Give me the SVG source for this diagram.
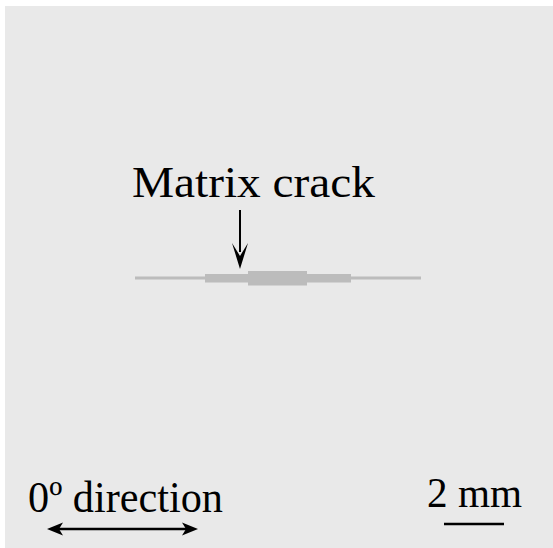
<svg xmlns="http://www.w3.org/2000/svg" width="553" height="548" viewBox="0 0 553 548">
<style>
.lbl{font-family:"Liberation Serif","Times New Roman",serif;fill:#000}
.crack{fill:#bcbcbc}
.ln{stroke:#000;stroke-width:2.5;fill:none}
</style>
<rect x="0" y="0" width="553" height="548" fill="#fff"/>
<rect x="5" y="6" width="548" height="542" fill="#e9e9e9"/>
<g id="crack">
<rect class="crack" x="135" y="276.5" width="286" height="3"/>
<rect class="crack" x="205" y="274" width="146" height="8.5"/>
<rect class="crack" x="248" y="271" width="59" height="14.5"/>
</g>
<g id="label-matrix-crack">
<text class="lbl" x="132" y="197" font-size="45" textLength="243" lengthAdjust="spacingAndGlyphs">Matrix crack</text>
</g>
<g id="label-direction">
<text class="lbl" x="28" y="512" font-size="45" textLength="195" lengthAdjust="spacingAndGlyphs">0º direction</text>
</g>
<g id="label-scale">
<text class="lbl" x="427" y="507" font-size="43" textLength="95" lengthAdjust="spacingAndGlyphs">2 mm</text>
</g>
<g id="connectors">
<line x1="240" y1="210" x2="240" y2="252" stroke="#000" stroke-width="2"/>
<polygon points="232,243 240,269 248,243 240,256" fill="#000"/>
<line class="ln" x1="58" y1="529" x2="188" y2="529"/>
<polygon points="47,529 63,522.5 59,529 63,535.5" fill="#000"/>
<polygon points="198,529 182,522.5 186,529 182,535.5" fill="#000"/>
<line x1="444" y1="524" x2="504" y2="524" stroke="#000" stroke-width="2.5"/>
</g>
</svg>
